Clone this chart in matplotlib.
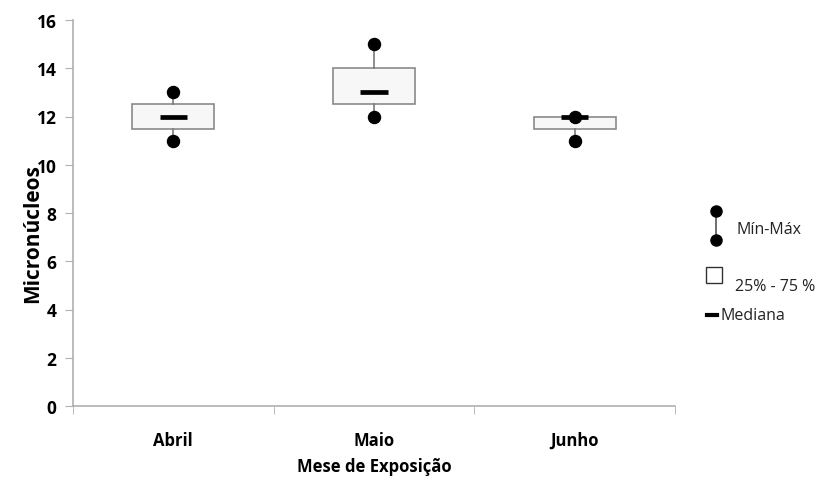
import matplotlib
matplotlib.use("Agg")
import matplotlib.pyplot as plt
from matplotlib.lines import Line2D
from matplotlib.patches import Rectangle

months = ["Abril", "Maio", "Junho"]
mins = [11, 12, 11]
q1s = [11.5, 12.5, 11.5]
medians = [12, 13, 12]
q3s = [12.5, 14, 12]
maxs = [13, 15, 12]
yticks = [0, 2, 4, 6, 8, 10, 12, 14, 16]

plt.rcParams['font.family'] = ['Open Sans', 'DejaVu Sans']

W, H = 835, 481
fig = plt.figure(figsize=(W / 100, H / 100), dpi=100)
ax = fig.add_axes([73 / W, 1 - 407 / H, (675 - 73) / W, (407 - 21) / H])

pos = list(range(len(months)))
stats = [dict(whislo=a, q1=b, med=c, q3=d, whishi=e, label=m)
         for a, b, c, d, e, m in zip(mins, q1s, medians, q3s, maxs, months)]
ax.bxp(stats, positions=pos, widths=0.41, showcaps=False, showfliers=False,
       patch_artist=True,
       boxprops=dict(facecolor='#f7f7f7', edgecolor='#8a8a8a', linewidth=1.2),
       whiskerprops=dict(color='#7a7a7a', linewidth=1.2),
       medianprops=dict(color='none'))
ax.scatter(pos, mins, s=75, color='black', zorder=4)
ax.scatter(pos, maxs, s=75, color='black', zorder=4)
ax.hlines(medians, [p - 0.068 for p in pos], [p + 0.068 for p in pos],
          color='black', linewidth=3.4, zorder=5)

ax.set_xlim(-0.5, 2.5)
ax.set_ylim(0, 16)
ax.set_yticks(yticks)
ax.set_yticklabels([str(v) for v in yticks], fontweight='bold', fontsize=12.5)
ax.set_xticks(pos)
ax.set_xticklabels(months, fontweight='bold', fontsize=12)
ax.set_xticks([-0.5, 0.5, 1.5, 2.5], minor=True)
ax.tick_params(axis='x', which='major', length=0, pad=18)
ax.tick_params(axis='x', which='minor', length=6, color='#b0b0b0', direction='out')
ax.tick_params(axis='y', length=6, color='#b0b0b0', direction='out', pad=6)
for s in ['top', 'right']:
    ax.spines[s].set_visible(False)
for s in ['left', 'bottom']:
    ax.spines[s].set_color('#b0b0b0')
    ax.spines[s].set_linewidth(1.2)

ax.set_ylabel("Micronúcleos", fontweight='bold', fontsize=15)
ax.yaxis.set_label_coords(-0.05, 0.45)
ax.set_xlabel("Mese de Exposição", fontweight='bold', fontsize=12, labelpad=6)

# legend (drawn manually in figure pixels)
def fx(x):
    return x / W

def fy(y):
    return 1 - y / H

fig.add_artist(Line2D([fx(716), fx(716)], [fy(212), fy(241)], color='#555555', lw=1.2,
                      transform=fig.transFigure))
fig.add_artist(Line2D([fx(716), fx(716)], [fy(212), fy(241)], color='black', lw=0,
                      marker='o', markersize=8, transform=fig.transFigure))
fig.text(fx(736), fy(230), "Mín-Máx", fontsize=11.5, va='center', ha='left', color='#222222')
fig.add_artist(Rectangle((fx(706), fy(284)), 16 / W, 16 / H, facecolor='white',
                         edgecolor='#333333', lw=1.0, transform=fig.transFigure))
fig.text(fx(735), fy(287), "25% - 75 %", fontsize=11.5, va='center', ha='left', color='#222222')
fig.add_artist(Line2D([fx(707), fx(717)], [fy(316), fy(316)], color='black', lw=3,
                      transform=fig.transFigure))
fig.text(fx(721), fy(316), "Mediana", fontsize=11.5, va='center', ha='left', color='#222222')

fig.savefig("out.png", dpi=100)
